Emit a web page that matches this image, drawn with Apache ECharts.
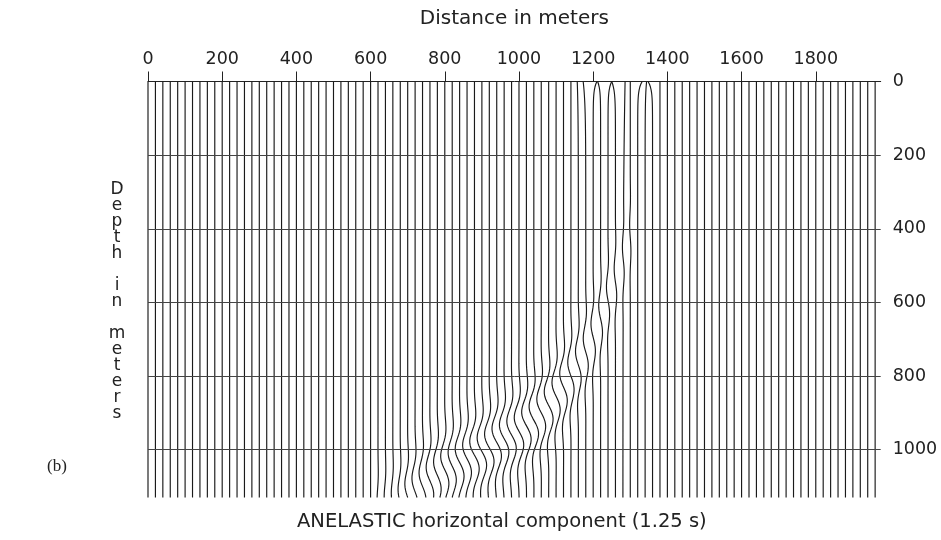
<!DOCTYPE html>
<html>
<head>
<meta charset="utf-8">
<script src="https://cdn.jsdelivr.net/npm/echarts@6/dist/echarts.min.js"></script>
<style>
html,body{margin:0;padding:0;background:#fff;}
#chart{width:941px;height:540px;}
</style>
</head>
<body>
<div id="chart"></div>
<script>
// ---- data ----
const distanceTicks = [0, 200, 400, 600, 800, 1000, 1200, 1400, 1600, 1800];
const depthTicks = [0, 200, 400, 600, 800, 1000];
const traceDistances = [0,20,40,60,80,100,120,140,160,180,200,220,240,260,280,300,320,340,360,380,
  400,420,440,460,480,500,520,540,560,580,600,620,640,660,680,700,720,740,760,780,
  800,820,840,860,880,900,920,940,960,980,1000,1020,1040,1060,1080,1100,1120,1140,1160,1180,
  1200,1220,1240,1260,1280,1300,1320,1340,1360,1380,1400,1420,1440,1460,1480,1500,1520,1540,1560,1580,
  1600,1620,1640,1660,1680,1700,1720,1740,1760,1780,1800,1820,1840,1860,1880,1900,1920,1940,1960];
// dipping event: trace distance (m), centre depth (m), peak displacement (m)
const eventTraces = [620,640,660,680,700,720,740,760,780,800,820,840,860,880,900,920,940,960,980,1000,
  1020,1040,1060,1080,1100,1120,1140,1160,1180,1200,1220,1240,1260,1280,1300];
const eventDepths = [1175,1165,1155,1145,1130,1115,1100,1085,1070,1055,1045,1035,1025,1015,1005,995,980,970,960,950,
  935,920,900,880,855,830,800,770,735,695,645,595,545,485,425];
const eventAmps = [3,4,5,7,9,10,11,12,12,13,13,14,14,15,15,15,15,15,15,15,
  15,15,14,14,13,12,10,9,8,7,6,5,4,3,2];
// near-surface disturbance: trace distance (m), displacement at surface (m), decay depth (m)
const surfaceTraces = [1160,1180,1200,1220,1240,1260,1280,1320,1340,1360];
const surfaceAmps = [-3,-7,10,-8,10,-10,6,12,4,-12];
const surfaceDecays = [80,60,20,20,20,25,300,20,40,20];

const maxDepth = 1130;
const maxDistance = 1975;

// ---- build traces ----
function traceData(x0) {
  const ei = eventTraces.indexOf(x0);
  const si = surfaceTraces.indexOf(x0);
  const pts = [];
  for (let z = 0; z <= maxDepth; z += 2.5) {
    let d = 0;
    if (ei >= 0) {
      const u = z - eventDepths[ei];
      d += eventAmps[ei] * Math.sin(2 * Math.PI * u / 170) * Math.exp(-(u / 100) * (u / 100));
    }
    if (si >= 0) {
      d += surfaceAmps[si] * Math.exp(-z / surfaceDecays[si]);
    }
    pts.push([x0 + d, z]);
  }
  return pts;
}

const series = traceDistances.map((x0, i) => ({
  type: 'line',
  data: traceData(x0),
  showSymbol: false,
  silent: true,
  animation: false,
  lineStyle: { color: '#1a1a1a', width: 1.15 },
  z: 3,
  markLine: i === 0 ? {
    silent: true,
    symbol: ['none', 'none'],
    label: { show: false },
    animation: false,
    lineStyle: { color: '#444', width: 1, type: 'solid' },
    data: depthTicks.slice(1).map(v => ({ yAxis: v }))
  } : undefined
}));

const chart = echarts.init(document.getElementById('chart'), null, { renderer: 'canvas' });
chart.setOption({
  animation: false,
  backgroundColor: '#fff',
  grid: { left: 148, right: 60.3, top: 81.5, bottom: 42.5, outerBoundsMode: 'none', containLabel: false },
  xAxis: {
    type: 'value',
    position: 'top',
    min: 0, max: maxDistance,
    name: 'Distance in meters',
    nameLocation: 'middle',
    nameGap: 53,
    nameTextStyle: { fontFamily: 'DejaVu Sans', fontSize: 20, color: '#222' },
    axisLine: { show: true, lineStyle: { color: '#222', width: 1 } },
    axisTick: { show: true, length: 10, customValues: distanceTicks, lineStyle: { color: '#222' } },
    axisLabel: {
      customValues: distanceTicks, margin: 13, fontFamily: 'DejaVu Sans', fontSize: 17.5, color: '#222',
      formatter: v => String(v)
    },
    splitLine: { show: false }
  },
  yAxis: {
    type: 'value',
    position: 'right',
    inverse: true,
    min: 0, max: maxDepth,
    axisLine: { show: false },
    axisTick: { show: false },
    axisLabel: {
      customValues: depthTicks, margin: 12, fontFamily: 'DejaVu Sans', fontSize: 17.5, color: '#222',
      formatter: v => String(v)
    },
    splitLine: { show: false }
  },
  graphic: [
    {
      type: 'text', x: 117, y: 182,
      style: {
        text: 'D\ne\np\nt\nh\n\ni\nn\n\nm\ne\nt\ne\nr\ns',
        fontFamily: 'DejaVu Sans', fontSize: 17, lineHeight: 16, fill: '#222', align: 'center'
      }
    },
    {
      type: 'text', left: 297, top: 512,
      style: { text: 'ANELASTIC horizontal component (1.25 s)', fontFamily: 'DejaVu Sans', fontSize: 19.5, fill: '#222' }
    },
    {
      type: 'text', left: 47, top: 458,
      style: { text: '(b)', fontFamily: 'Liberation Serif', fontSize: 17, fill: '#222' }
    }
  ],
  series: series
});
</script>
</body>
</html>
